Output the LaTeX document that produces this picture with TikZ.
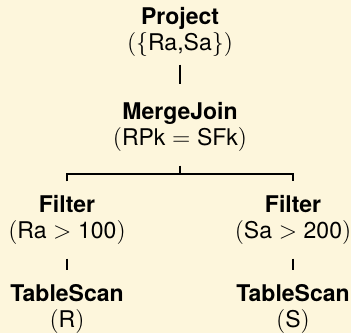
\documentclass[tikz,border=0pt]{standalone}
\usepackage{amsmath}
\usepackage[no-math]{fontspec}
\setmainfont{TeX Gyre Heros}
\usepackage{xcolor}
\definecolor{paper}{RGB}{253,246,220}
\usetikzlibrary{calc}

\begin{document}
\begin{tikzpicture}[x=0.5pt, y=-0.5pt]
	\tikzset{op/.style={align=center, inner sep=0pt, outer sep=7pt, font=\fontsize{11.5}{13}\selectfont},
		edge/.style={line width=1pt}}

	\fill[paper] (0,0) rectangle (351,333);
	\path[use as bounding box] (0,0) rectangle (351,333);

	\coordinate (P) at (180,32);
	\coordinate (M) at (180,127);
	\coordinate (FL) at (67,220);
	\coordinate (FR) at (293,220);
	\coordinate (TL) at (67,309);
	\coordinate (TR) at (293,309);
	\coordinate (fork) at (180,174);

	\node[op] (proj) at (P) {\textbf{Project}\\ $(\{\text{Ra,Sa}\})$};
	\node[op] (mj) at (M) {\textbf{MergeJoin}\\ $(\text{RPk} = \text{SFk})$};
	\node[op] (filtl) at (FL) {\textbf{Filter}\\ $(\text{Ra} > \text{100})$};
	\node[op] (filtr) at (FR) {\textbf{Filter}\\ $(\text{Sa} > \text{200})$};
	\node[op] (tsl) at (TL) {\textbf{TableScan}\\ $(\text{R})$};
	\node[op] (tsr) at (TR) {\textbf{TableScan}\\ $(\text{S})$};

	\draw[edge, shorten <=-3pt, shorten >=2pt] (proj) -- (mj);
	\draw[edge] (mj) -- (fork);
	\draw[edge] (filtl) |- (fork) -| (filtr);
	\draw[edge] (filtl) -- (tsl);
	\draw[edge] (filtr) -- (tsr);

\end{tikzpicture}
\end{document}
